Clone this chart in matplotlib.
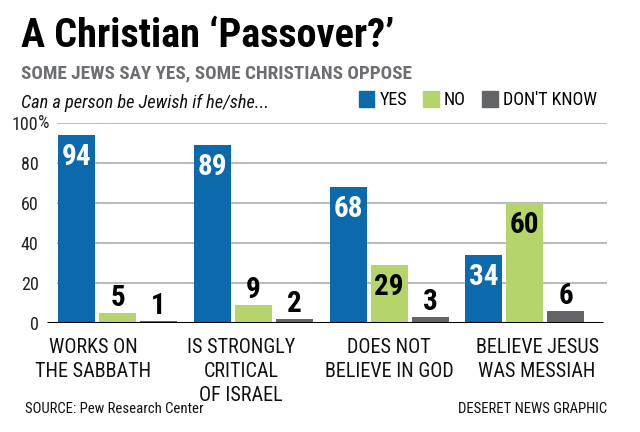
import matplotlib
matplotlib.use('Agg')
import matplotlib.pyplot as plt
from matplotlib.patches import Patch
import matplotlib.transforms as mtransforms

plt.rcParams['font.family'] = ['Liberation Sans Narrow', 'Roboto Condensed', 'Noto Sans', 'DejaVu Sans']
plt.rcParams['font.stretch'] = 'condensed'

# data
categories = ['WORKS ON\nTHE SABBATH', 'IS STRONGLY\nCRITICAL\nOF ISRAEL',
              'DOES NOT\nBELIEVE IN GOD', 'BELIEVE JESUS\nWAS MESSIAH']
series = ['YES', 'NO', "DON'T KNOW"]
yes = [94, 89, 68, 34]
no = [5, 9, 29, 60]
dont_know = [1, 2, 3, 6]
yticks = [0, 20, 40, 60, 80, 100]

colors = ['#0a6aab', '#b6d46c', '#636467']
label_colors = ['white', 'black', 'black']

fig = plt.figure(figsize=(6.4, 4.32), dpi=100)
ax = fig.add_axes([47/640, 109/432, 560/640, 200/432])
ax.set_xlim(-0.52, 3.605)
ax.set_ylim(0, 100)
for s in ax.spines.values():
    s.set_visible(False)
ax.set_xticks([])
ax.set_yticks(yticks)
ax.set_yticklabels([str(t) for t in yticks], fontsize=13, color='#222222')
ax.tick_params(axis='y', length=0, pad=6)
ax.text(-0.0165, 100, '%', transform=ax.get_yaxis_transform(), ha='left',
        va='center', fontsize=13, color='#222222')

ax.hlines(yticks[1:], -0.445, 3.605, color='#b4b4b4', lw=1.3, zorder=1)

step = 0.3015
width = 0.272
for k, vals in enumerate([yes, no, dont_know]):
    xs = [i + (k - 1) * step for i in range(len(vals))]
    bars = ax.bar(xs, vals, width=width, color=colors[k], zorder=2, label=series[k])
    for rect, v in zip(bars, vals):
        cx = rect.get_x() + rect.get_width() / 2
        if v >= 20:
            ax.annotate(str(v), (cx, v), xytext=(0, -6), textcoords='offset points',
                        ha='center', va='top', fontsize=21, fontweight='bold',
                        color=label_colors[k], zorder=4)
        else:
            ax.annotate(str(v), (cx, v), xytext=(0, 5), textcoords='offset points',
                        ha='center', va='baseline', fontsize=21, fontweight='bold',
                        color='black', zorder=4)

ax.hlines(0, -0.52, 3.575, color='black', lw=2.2, zorder=3)

# category labels, one line at a time
trans = mtransforms.blended_transform_factory(ax.transData, ax.transAxes)
for i, cat in enumerate(categories):
    for j, line in enumerate(cat.split('\n')):
        ax.text(i * 1.09 - 0.18, -0.075 - 0.12 * j, line, transform=trans,
                ha='center', va='top', fontsize=14.5, color='#111111')

# titles
fig.text(21/640, (432-47)/432, 'A Christian \u2018Passover?\u2019', fontsize=29,
         fontweight='bold', color='black', va='baseline', ha='left')
fig.text(21/640, (432-78)/432, 'SOME JEWS SAY YES, SOME CHRISTIANS OPPOSE', fontsize=13.8,
         fontweight='bold', color='#6d6e71', va='baseline', ha='left')
fig.text(21/640, (432-108)/432, 'Can a person be Jewish if he/she...', fontsize=13.2,
         style='italic', color='#111111', va='baseline', ha='left')

handles = [Patch(color=c) for c in colors]
fig.legend(handles, series, loc='center right', bbox_to_anchor=(597/640, (432-100)/432),
           ncol=3, frameon=False, fontsize=13, handlelength=0.85, handleheight=1.05,
           handletextpad=0.3, columnspacing=0.9, borderpad=0, borderaxespad=0)

fig.text(25/640, (432-413)/432, 'SOURCE: Pew Research Center', fontsize=10.6,
         color='#111111', va='baseline', ha='left')
fig.text(607/640, (432-413)/432, 'DESERET NEWS GRAPHIC', fontsize=10.6,
         color='#111111', va='baseline', ha='right')

fig.savefig('out.png', dpi=100, facecolor='white')
